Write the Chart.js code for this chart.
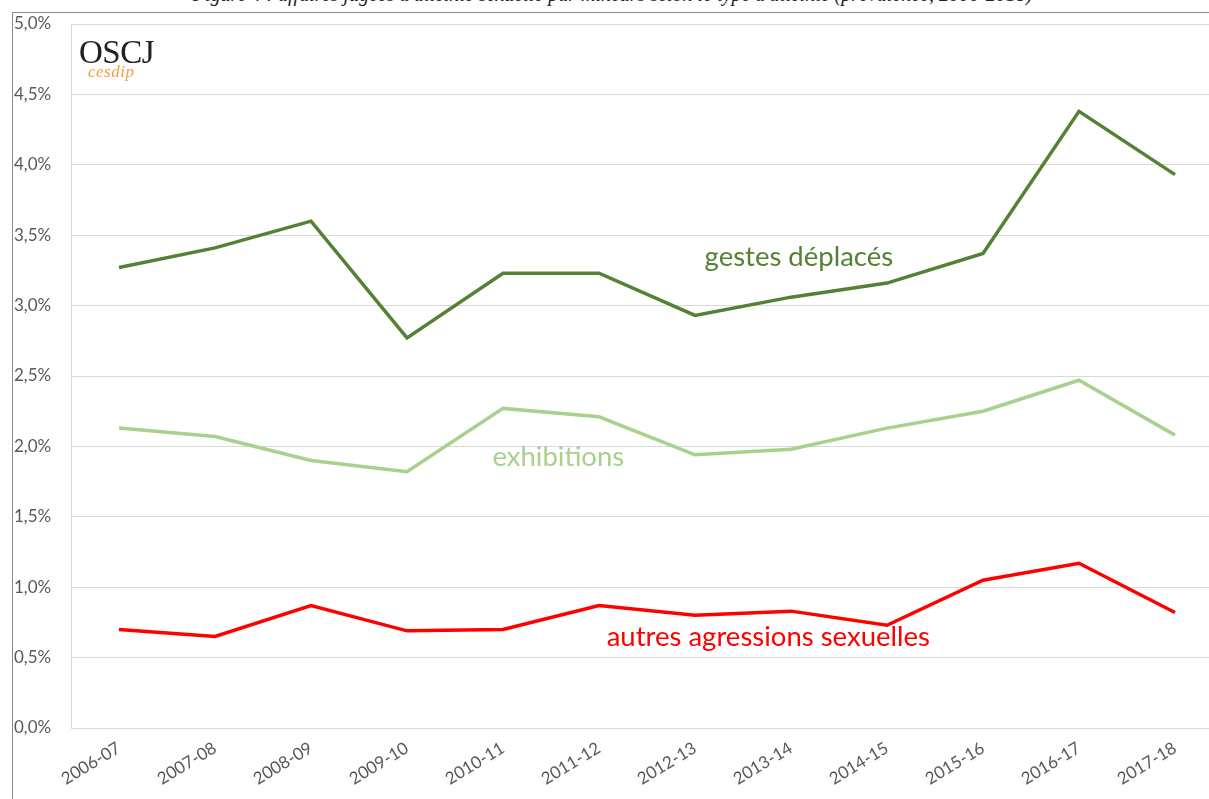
<!DOCTYPE html>
<html>
<head>
<meta charset="utf-8">
<script src="https://cdn.jsdelivr.net/npm/chart.js@4"></script>
<style>
    html, body { margin: 0; padding: 0; background: #fff; overflow: hidden; }
    body { width: 1209px; height: 799px; position: relative; }
    #wrap { position: absolute; left: 0; top: 0; width: 1226px; height: 799px; }
    #frame { position: absolute; left: 12px; top: 12px; width: 1400px; height: 900px;
             border-left: 1px solid #8c8c8c; border-top: 1px solid #8c8c8c; pointer-events: none; }
    #title { position: absolute; left: 0; top: -17px; width: 1225px; text-align: center;
             font-family: "Liberation Serif", serif; font-style: italic; font-size: 20px; color: #222; }
    #logo { position: absolute; left: 79px; top: 36px; font-family: "Liberation Serif", serif; }
    #logo .big { font-size: 33px; color: #222; letter-spacing: -0.5px; line-height: 33px; }
    #logo .small { position: absolute; left: 9px; top: 27px; font-size: 17px; font-style: italic;
                   color: #f0a040; line-height: 17px; letter-spacing: 0.5px; }
</style>
</head>
<body>
<div id="title">Figure 4 : affaires jugées d'atteinte sexuelle par mineurs selon le type d'atteinte (prévalence, 2006-2018)</div>
<div id="wrap"><canvas id="chart"></canvas></div>
<div id="frame"></div>
<div id="logo"><div class="big">OSCJ</div><div class="small">cesdip</div></div>

<script>
// Data (percent)
const seasons = ['2006-07', '2007-08', '2008-09', '2009-10', '2010-11', '2011-12',
                 '2012-13', '2013-14', '2014-15', '2015-16', '2016-17', '2017-18'];
const gestesDeplaces = [3.27, 3.41, 3.60, 2.77, 3.23, 3.23, 2.93, 3.06, 3.16, 3.37, 4.38, 3.93];
const exhibitions = [2.13, 2.07, 1.90, 1.82, 2.27, 2.21, 1.94, 1.98, 2.13, 2.25, 2.47, 2.08];
const autresAgressions = [0.70, 0.65, 0.87, 0.69, 0.70, 0.87, 0.80, 0.83, 0.73, 1.05, 1.17, 0.82];

// Colors
const colors = {
    dark: '#548235',
    light: '#a9d18e',
    red: '#ff0000',
    grid: '#d9d9d9',
    text: '#595959',
};

const labelFont = 'Lato, "Open Sans", sans-serif';

// Series labels written inside the plot (anchored to the scales)
const seriesLabels = [
    { text: 'gestes déplacés', color: colors.dark, x: 6.1, y: 3.28 },
    { text: 'exhibitions', color: colors.light, x: 3.89, y: 1.86 },
    { text: 'autres agressions sexuelles', color: colors.red, x: 5.08, y: 0.58 },
];

const seriesLabelPlugin = {
    id: 'seriesLabels',
    afterDatasetsDraw(chart) {
        const { ctx, scales } = chart;
        ctx.save();
        ctx.font = '27.5px ' + labelFont;
        ctx.textAlign = 'left';
        ctx.textBaseline = 'alphabetic';
        seriesLabels.forEach(l => {
            ctx.fillStyle = l.color;
            ctx.fillText(l.text, scales.x.getPixelForValue(l.x), scales.y.getPixelForValue(l.y));
        });
        ctx.restore();
    }
};

function lineSet(label, data, color) {
    return {
        label: label,
        data: data,
        borderColor: color,
        backgroundColor: color,
        borderWidth: 3.5,
        pointRadius: 0,
        tension: 0,
        borderJoinStyle: 'miter',
    };
}

const ctx = document.getElementById('chart').getContext('2d');
new Chart(ctx, {
    type: 'line',
    data: {
        labels: seasons,
        datasets: [
            lineSet('gestes déplacés', gestesDeplaces, colors.dark),
            lineSet('exhibitions', exhibitions, colors.light),
            lineSet('autres agressions sexuelles', autresAgressions, colors.red),
        ]
    },
    options: {
        responsive: true,
        maintainAspectRatio: false,
        animation: false,
        layout: { padding: { left: 14, top: 24, right: 3, bottom: 0 } },
        plugins: {
            legend: { display: false },
            tooltip: { enabled: false },
        },
        scales: {
            x: {
                offset: true,
                grid: { display: false, drawTicks: false },
                border: { display: true, color: colors.grid },
                ticks: {
                    color: colors.text,
                    font: { family: labelFont, size: 17 },
                    minRotation: 31,
                    maxRotation: 31,
                    padding: 10,
                    autoSkip: false,
                },
                afterFit(scale) { scale.height = 71; }
            },
            y: {
                min: 0,
                max: 5,
                grid: { color: colors.grid, drawTicks: false },
                border: { display: true, color: colors.grid },
                ticks: {
                    stepSize: 0.5,
                    color: colors.text,
                    font: { family: labelFont, size: 17 },
                    crossAlign: 'far',
                    padding: 0,
                    callback: v => v.toFixed(1).replace('.', ',') + '%',
                },
                afterFit(scale) { scale.width = 57; }
            }
        }
    },
    plugins: [seriesLabelPlugin]
});
</script>
</body>
</html>
